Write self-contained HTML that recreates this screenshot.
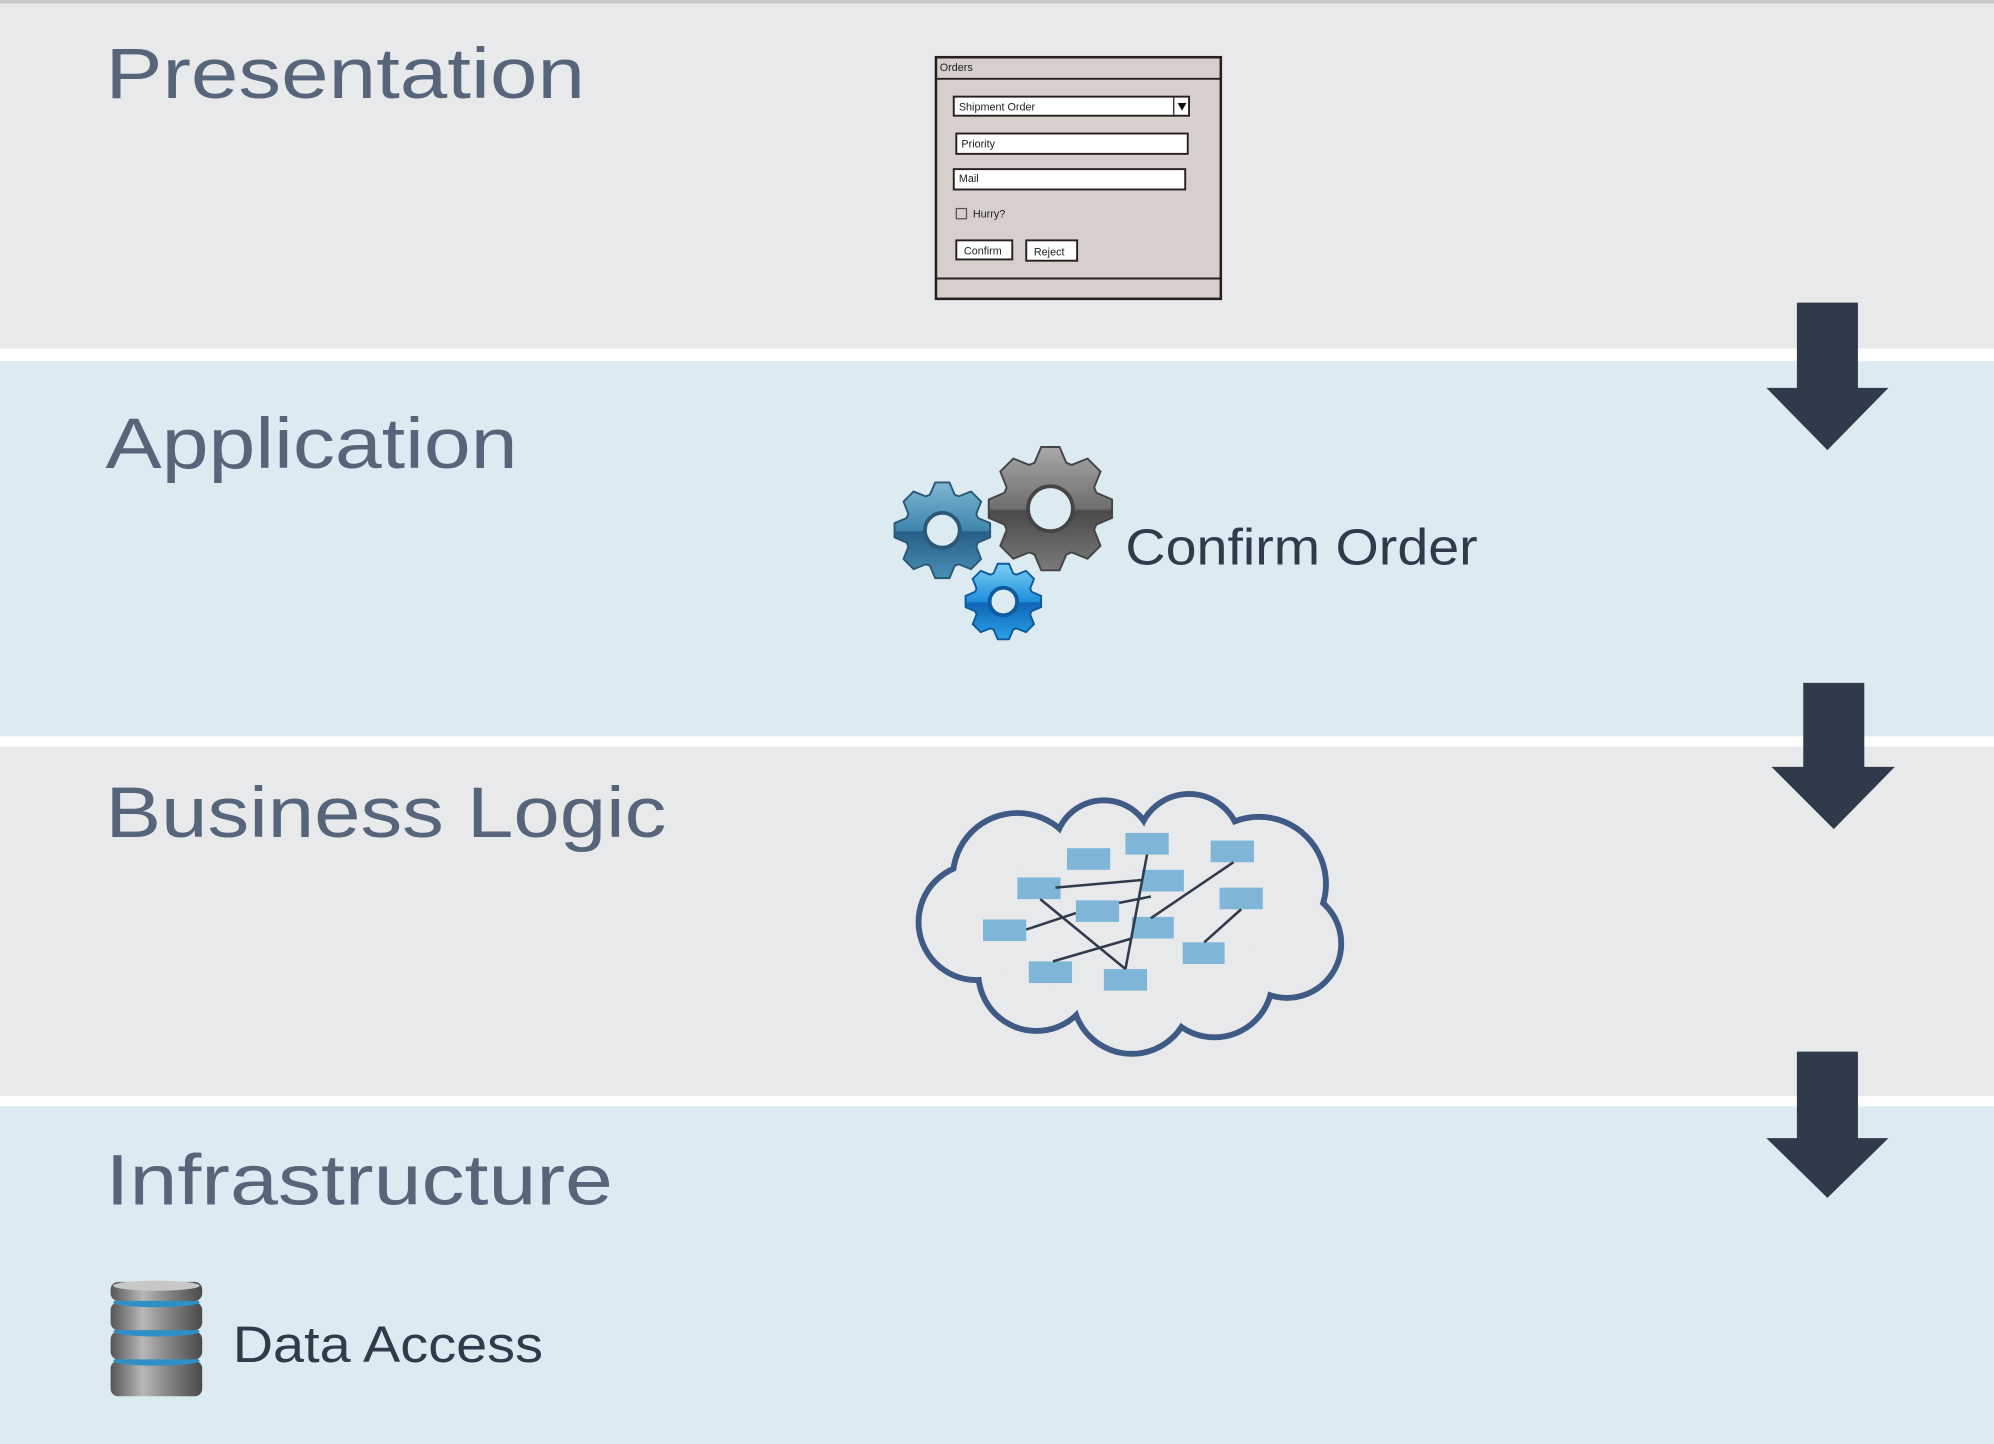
<!DOCTYPE html>
<html><head><meta charset="utf-8"><style>
html,body{margin:0;padding:0;background:#fff;}
svg{display:block;}
text{font-family:"Liberation Sans",sans-serif;}
</style></head><body>
<svg id="s" width="1994" height="1444" viewBox="0 0 1568 1135.5" xmlns="http://www.w3.org/2000/svg">
<defs>
<linearGradient id="gg" x1="0" y1="0" x2="0" y2="1"><stop offset="0" stop-color="#a8a8a8"/><stop offset="0.5" stop-color="#6e6e6e"/><stop offset="0.52" stop-color="#4a4a4a"/><stop offset="1" stop-color="#7a7a7a"/></linearGradient>
<linearGradient id="gb" x1="0" y1="0" x2="0" y2="1"><stop offset="0" stop-color="#7fb6d2"/><stop offset="0.5" stop-color="#3f86ad"/><stop offset="0.52" stop-color="#265f86"/><stop offset="1" stop-color="#4a8fb5"/></linearGradient>
<linearGradient id="gs" x1="0" y1="0" x2="0" y2="1"><stop offset="0" stop-color="#7cd0f5"/><stop offset="0.5" stop-color="#1f8fdc"/><stop offset="0.52" stop-color="#0f66b5"/><stop offset="1" stop-color="#2ba0e8"/></linearGradient>
<linearGradient id="db" x1="0" y1="0" x2="1" y2="0"><stop offset="0" stop-color="#555"/><stop offset="0.35" stop-color="#b8b8b8"/><stop offset="0.6" stop-color="#8a8a8a"/><stop offset="1" stop-color="#4a4a4a"/></linearGradient>
</defs>
<rect x="0" y="0" width="1568" height="1136" fill="#fff"/>
<rect x="0" y="0" width="1568" height="3" fill="#c9c9c9"/>
<rect x="0" y="3" width="1568" height="271" fill="#e8e9eb"/>
<rect x="0" y="284" width="1568" height="295" fill="#dceaf2"/>
<rect x="0" y="587" width="1568" height="275" fill="#e8e9eb"/>
<rect x="0" y="870" width="1568" height="266" fill="#dceaf2"/>

<g fill="#56657a" font-size="56">
<text x="83" y="77" textLength="377" lengthAdjust="spacingAndGlyphs">Presentation</text>
<text x="83" y="368" textLength="324" lengthAdjust="spacingAndGlyphs">Application</text>
<text x="83" y="658" textLength="441" lengthAdjust="spacingAndGlyphs">Business Logic</text>
<text x="83" y="947" textLength="399" lengthAdjust="spacingAndGlyphs">Infrastructure</text>
</g>
<g fill="#2f3b4b" font-size="40">
<text x="885" y="444" textLength="277" lengthAdjust="spacingAndGlyphs">Confirm Order</text>
<text x="183" y="1071" textLength="244" lengthAdjust="spacingAndGlyphs">Data Access</text>
</g>

<g fill="#2f3b4b">
<polygon points="1413,238 1461,238 1461,305 1485,305 1437,354 1389,305 1413,305"/>
<polygon points="1418,537 1466,537 1466,603 1490,603 1442,652 1393,603 1418,603"/>
<polygon points="1413,827 1461,827 1461,895 1485,895 1437,942 1389,895 1413,895"/>
</g>

<g stroke="#2a1f1f" font-size="8" >
<rect x="736" y="45" width="224" height="190" fill="#d6cfcc" stroke-width="2"/>
<line x1="736" y1="62" x2="960" y2="62" stroke-width="1.5"/>
<line x1="736" y1="219" x2="960" y2="219" stroke-width="1.5"/>
<rect x="750" y="76" width="185" height="15" fill="#fff" stroke-width="1.5"/>
<line x1="923" y1="76" x2="923" y2="91"/>
<rect x="752" y="105" width="182" height="16" fill="#fff" stroke-width="1.5"/>
<rect x="750" y="133" width="182" height="16" fill="#fff" stroke-width="1.5"/>
<rect x="752" y="164" width="8" height="8" fill="none" stroke="#555" stroke-width="1"/>
<rect x="752" y="189" width="44" height="15" fill="#fff" stroke-width="1.5"/>
<rect x="807" y="189" width="40" height="16" fill="#fff" stroke-width="1.5"/>
</g>
<polygon points="926,81 933,81 929.5,87" fill="#111"/>
<g fill="#222" font-size="8.5">
<text x="739" y="56">Orders</text>
<text x="754" y="87">Shipment Order</text>
<text x="756" y="116">Priority</text>
<text x="754" y="143">Mail</text>
<text x="765" y="171">Hurry?</text>
<text x="758" y="200">Confirm</text>
<text x="813" y="201">Reject</text>
</g>

<g id="gears"></g>

<g id="cloud"></g>
<g fill="#7fb6d8">
<rect x="800" y="690" width="34" height="17"/><rect x="839" y="667" width="34" height="17"/>
<rect x="885" y="655" width="34" height="17"/><rect x="898" y="684" width="33" height="17"/>
<rect x="846" y="708" width="34" height="17"/><rect x="952" y="661" width="34" height="17"/>
<rect x="959" y="698" width="34" height="17"/><rect x="773" y="723" width="34" height="17"/>
<rect x="890" y="721" width="33" height="17"/><rect x="930" y="741" width="33" height="17"/>
<rect x="809" y="756" width="34" height="17"/><rect x="868" y="762" width="34" height="17"/>
</g>
<g stroke="#2f3b4b" stroke-width="2">
<line x1="830" y1="698" x2="898" y2="692"/>
<line x1="818" y1="707" x2="885" y2="762"/>
<line x1="902" y1="672" x2="885" y2="762"/>
<line x1="807" y1="731" x2="846" y2="718"/>
<line x1="880" y1="710" x2="905" y2="705"/>
<line x1="905" y1="722" x2="970" y2="678"/>
<line x1="828" y1="756" x2="890" y2="738"/>
<line x1="947" y1="741" x2="976" y2="715"/>
</g>

<g>
<rect x="87" y="1070" width="72" height="28" rx="6" fill="url(#db)"/>
<ellipse cx="123" cy="1070" rx="34" ry="4" fill="#2f8fc6"/>
<rect x="87" y="1047" width="72" height="22" rx="6" fill="url(#db)"/>
<ellipse cx="123" cy="1047" rx="34" ry="4" fill="#2f8fc6"/>
<rect x="87" y="1024" width="72" height="22" rx="6" fill="url(#db)"/>
<ellipse cx="123" cy="1024" rx="34" ry="4" fill="#2f8fc6"/>
<rect x="87" y="1008" width="72" height="15" rx="6" fill="url(#db)"/>
<ellipse cx="123" cy="1011" rx="34" ry="4" fill="#c8c8c8"/>
</g>
</svg>
<script>
var NS="http://www.w3.org/2000/svg";
function gear(cx,cy,R,n,fill,stroke){
 var r=R*0.78,pts=[],N=n*4;
 for(var i=0;i<N;i++){
  var a=(i/N)*Math.PI*2 - Math.PI/2 - Math.PI/n*0.25;
  var rr=(i%4==0||i%4==1)?R:r;
  var off=(i%4==0)?-0.05:(i%4==1)?0.05:(i%4==2)?0.04:-0.04;
  pts.push((cx+rr*Math.cos(a+off)).toFixed(1)+","+(cy+rr*Math.sin(a+off)).toFixed(1));
 }
 var g=document.getElementById("gears");
 var p=document.createElementNS(NS,"polygon");p.setAttribute("points",pts.join(" "));
 p.setAttribute("fill",fill);p.setAttribute("stroke",stroke);p.setAttribute("stroke-width","1.5");g.appendChild(p);
 var c=document.createElementNS(NS,"circle");c.setAttribute("cx",cx);c.setAttribute("cy",cy);c.setAttribute("r",R*0.36);
 c.setAttribute("fill","#dceaf2");c.setAttribute("stroke",stroke);c.setAttribute("stroke-width","3");g.appendChild(c);
}
gear(741,417,38,8,"url(#gb)","#2a5877");
gear(826,400,49,8,"url(#gg)","#444");
gear(789,473,30,8,"url(#gs)","#0d5a9c");
var C=[[800,690,50],[868,668,38],[935,665,40],[990,695,52],[1012,742,42],[955,770,45],[890,782,46],[815,765,45],[768,725,45],[845,720,60],[930,725,60]];
var cg=document.getElementById("cloud");
C.forEach(function(c){var e=document.createElementNS(NS,"circle");e.setAttribute("cx",c[0]);e.setAttribute("cy",c[1]);e.setAttribute("r",c[2]);e.setAttribute("fill","none");e.setAttribute("stroke","#3f5a85");e.setAttribute("stroke-width","6");cg.appendChild(e);});
C.forEach(function(c){var e=document.createElementNS(NS,"circle");e.setAttribute("cx",c[0]);e.setAttribute("cy",c[1]);e.setAttribute("r",c[2]-1.6);e.setAttribute("fill","#e8e9eb");cg.appendChild(e);});
</script>
</body></html>
